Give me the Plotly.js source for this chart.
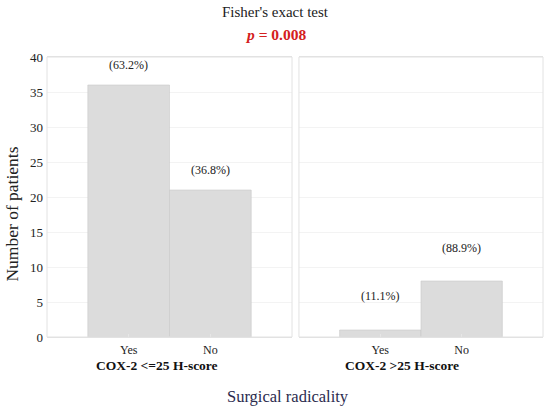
<!DOCTYPE html>
<html>
<head>
<meta charset="utf-8">
<script src="https://cdn.plot.ly/plotly-3.0.1.min.js"></script>
<style>html,body{margin:0;padding:0;background:#fff;}#chart{width:550px;height:410px;}</style>
</head>
<body>
<div id="chart"></div>
<script>
const categories = ['Yes', 'No'];
const groupNames = ['COX-2 <=25 H-score', 'COX-2 >25 H-score'];
const lowCounts = [36, 21];
const highCounts = [1, 8];
const lowPct = ['(63.2%)', '(36.8%)'];
const highPct = ['(11.1%)', '(88.9%)'];
const lowLabelY = [38.8, 23.8];
const highLabelY = [5.9, 12.7];
const yTicks = [0, 5, 10, 15, 20, 25, 30, 35, 40];

const serif = 'Liberation Serif, Times New Roman, serif';
const barStyle = {color: '#dcdcdc', line: {color: '#c9c9c9', width: 0.6}};

const traces = [
  {type: 'bar', x: categories, y: lowCounts, xaxis: 'x', yaxis: 'y', marker: barStyle, width: 1, hoverinfo: 'none'},
  {type: 'bar', x: categories, y: highCounts, xaxis: 'x2', yaxis: 'y', marker: barStyle, width: 1, hoverinfo: 'none'}
];

const xBase = {
  type: 'category', range: [-1, 2], showline: true, mirror: true, linecolor: '#e2e2e2', linewidth: 1,
  showgrid: false, zeroline: false, ticks: 'inside', ticklen: 3, tickcolor: '#e6e6e6',
  tickfont: {family: serif, size: 12, color: '#222'}, ticklabelstandoff: 2, fixedrange: true
};

function note(x, y, text, size, color, extra) {
  return Object.assign({xref: 'paper', yref: 'paper', x: x, y: y, text: text, showarrow: false,
    xanchor: 'center', yanchor: 'middle', font: {family: serif, size: size, color: color}}, extra || {});
}

const annotations = [];
categories.forEach((c, i) => {
  annotations.push({xref: 'x', yref: 'y', x: c, y: lowLabelY[i], text: lowPct[i], showarrow: false,
    xanchor: 'center', yanchor: 'middle', font: {family: serif, size: 12, color: '#222'}});
  annotations.push({xref: 'x2', yref: 'y', x: c, y: highLabelY[i], text: highPct[i], showarrow: false,
    xanchor: 'center', yanchor: 'middle', font: {family: serif, size: 12, color: '#222'}});
});
annotations.push(note(0.222, -0.1, '<b>' + groupNames[0].replace('<', '&lt;') + '</b>', 13.5, '#111'));
annotations.push(note(0.716, -0.1, '<b>' + groupNames[1].replace('>', '&gt;') + '</b>', 13.5, '#111'));
annotations.push(note(0.486, -0.214, 'Surgical radicality', 16.5, '#2b2b4e'));
annotations.push(note(0.46, 1.161, "Fisher's exact test", 15, '#222'));
annotations.push(note(0.46, 1.079, '<b><i>p</i> = 0.008</b>', 15.5, '#d42020'));
annotations.push(note(-0.071, 0.44, 'Number of patients', 17.5, '#222', {textangle: -90}));

const layout = {
  width: 550, height: 410,
  margin: {l: 47, r: 7, t: 57, b: 73},
  paper_bgcolor: '#fff', plot_bgcolor: '#fff',
  showlegend: false, bargap: 0,
  xaxis: Object.assign({}, xBase, {domain: [0, 0.494], anchor: 'y'}),
  xaxis2: Object.assign({}, xBase, {domain: [0.508, 1], anchor: 'y'}),
  yaxis: {
    range: [0, 40], tickvals: yTicks, showline: false, showgrid: true, gridcolor: '#f3f3f3',
    zeroline: false, ticks: '', tickfont: {family: serif, size: 13, color: '#222'}, ticklabelstandoff: 3, fixedrange: true
  },
  shapes: [
    {type: 'rect', xref: 'x2 domain', yref: 'y domain', x0: 0, x1: 1, y0: 0, y1: 1, line: {color: '#e2e2e2', width: 1}},
    {type: 'rect', xref: 'x domain', yref: 'y domain', x0: 0, x1: 1, y0: 0, y1: 1, line: {color: '#e2e2e2', width: 1}}
  ],
  annotations: annotations
};

Plotly.newPlot('chart', traces, layout, {staticPlot: true, displayModeBar: false});
</script>
</body>
</html>
